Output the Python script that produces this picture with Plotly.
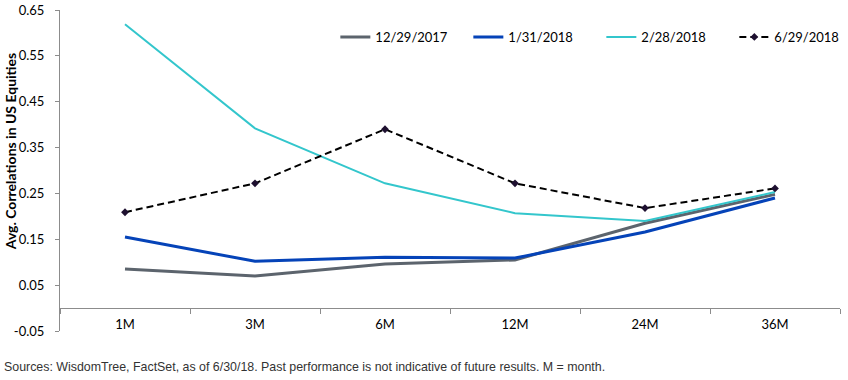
import plotly.graph_objects as go

categories = ["1M", "3M", "6M", "12M", "24M", "36M"]
series_names = ["12/29/2017", "1/31/2018", "2/28/2018", "6/29/2018"]
s_2017_12 = [0.085, 0.070, 0.096, 0.105, 0.185, 0.248]
s_2018_01 = [0.155, 0.102, 0.111, 0.109, 0.166, 0.240]
s_2018_02 = [0.619, 0.392, 0.272, 0.207, 0.190, 0.253]
s_2018_06 = [0.209, 0.272, 0.390, 0.272, 0.218, 0.261]
y_ticks = [-0.05, 0.05, 0.15, 0.25, 0.35, 0.45, 0.55, 0.65]
y_tick_labels = ["-0.05", "0.05", "0.15", "0.25", "0.35", "0.45", "0.55", "0.65"]

FONT = "Lato"
fig = go.Figure()
fig.add_trace(go.Scatter(x=categories, y=s_2017_12, name=series_names[0], mode="lines",
                         line=dict(color="#5c646d", width=3)))
fig.add_trace(go.Scatter(x=categories, y=s_2018_01, name=series_names[1], mode="lines",
                         line=dict(color="#0543b8", width=3)))
fig.add_trace(go.Scatter(x=categories, y=s_2018_02, name=series_names[2], mode="lines",
                         line=dict(color="#33c6cc", width=2)))
fig.add_trace(go.Scatter(x=categories, y=s_2018_06, name=series_names[3], mode="lines+markers",
                         line=dict(color="#000000", width=2, dash="7px,4px"),
                         marker=dict(symbol="diamond", size=6, color="#1e1030")))

fig.update_layout(
    width=848, height=380,
    margin=dict(l=60, r=8, t=10, b=49, autoexpand=False),
    paper_bgcolor="white", plot_bgcolor="white",
    font=dict(family=FONT, size=13, color="#000000"),
    showlegend=True,
    legend=dict(orientation="h", x=0.353, xanchor="left", y=0.916, yanchor="middle",
                entrywidth=88, entrywidthmode="pixels", font=dict(size=13, family=FONT),
                bgcolor="rgba(0,0,0,0)"),
    xaxis=dict(type="category", range=[-0.5, 5.5], showgrid=False, zeroline=False,
               showline=True, linecolor="#8c8c8c", linewidth=1,
               ticks="outside", ticklen=5, tickcolor="#8c8c8c", tickson="boundaries",
               anchor="free", position=0.05 / 0.7, ticklabelstandoff=4,
               tickfont=dict(size=13, family=FONT), fixedrange=True),
    yaxis=dict(range=[-0.05, 0.65], tickvals=y_ticks, ticktext=y_tick_labels,
               showgrid=False, zeroline=False, showline=True, linecolor="#8c8c8c", linewidth=1,
               ticks="outside", ticklen=4, tickcolor="#8c8c8c", ticklabelstandoff=8,
               tickfont=dict(size=13, family=FONT)),
    annotations=[
        dict(text="<b>Avg. Correlations in US Equities</b>", textangle=-90,
             xref="paper", yref="paper", x=0, y=0.56, xanchor="center", yanchor="middle",
             xshift=-50, showarrow=False, font=dict(size=14, family=FONT)),
        dict(text="Sources: WisdomTree, FactSet, as of 6/30/18. Past performance is not indicative of future results. M = month.",
             xref="paper", yref="paper", x=0, y=-0.112, xanchor="left", yanchor="middle",
             xshift=-58, showarrow=False, font=dict(size=12.4, family="Liberation Sans", color="#333333")),
    ],
)

fig.write_html("out.html")
